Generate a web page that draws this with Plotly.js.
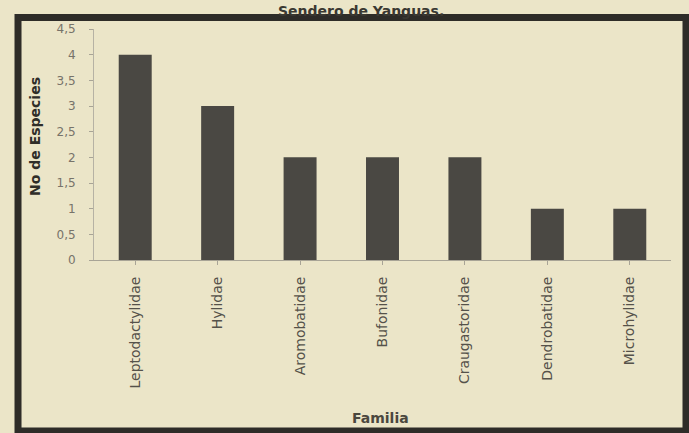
<!DOCTYPE html>
<html>
<head>
<meta charset="utf-8">
<script src="https://cdn.plot.ly/plotly-3.0.1.min.js"></script>
<style>html,body{margin:0;padding:0;background:#ebe5c8;}#chart{width:689px;height:433px;}</style>
</head>
<body>
<div id="chart"></div>
<script>
const familias = ["Leptodactylidae", "Hylidae", "Aromobatidae", "Bufonidae", "Craugastoridae", "Dendrobatidae", "Microhylidae"];
const especies = [4, 3, 2, 2, 2, 1, 1];
const yTicks = [0, 0.5, 1, 1.5, 2, 2.5, 3, 3.5, 4, 4.5];
const tituloTexto = "Sendero de Yanguas.";
const tituloY = "No de Especies";
const tituloX = "Familia";

const bg = '#ebe5c8';
const trace = {
  type: 'bar', x: familias, y: especies,
  marker: {color: '#4a4843'}, hoverinfo: 'none'
};
const layout = {
  width: 689, height: 433,
  margin: {l: 94, r: 18, t: 29, b: 173},
  paper_bgcolor: bg, plot_bgcolor: bg,
  separators: ',.',
  bargap: 0.6,
  showlegend: false,
  font: {family: 'DejaVu Sans, sans-serif', color: '#6a6658'},
  xaxis: {
    type: 'category', showgrid: false, zeroline: false,
    showline: true, linecolor: '#a8a496', linewidth: 1,
    ticks: 'outside', ticklen: 4, tickcolor: '#a8a496',
    tickangle: -90, ticklabelstandoff: 6,
    tickfont: {size: 14, color: '#55524a'}
  },
  yaxis: {
    range: [0, 4.5], tickvals: yTicks, showgrid: false, zeroline: false,
    showline: true, linecolor: '#b6b2a4', linewidth: 1,
    ticks: 'outside', ticklen: 4, tickcolor: '#a8a496',
    ticklabelstandoff: 11,
    tickfont: {size: 12, color: '#77736a'}
  },
  shapes: [
    {type: 'rect', xref: 'paper', yref: 'paper', x0: -0.1317, x1: 1.026, y0: -0.7403, y1: 1.0498,
     line: {color: '#2e2c28', width: 7}, fillcolor: 'rgba(0,0,0,0)', layer: 'above'}
  ],
  annotations: [
    {text: '<b>' + tituloTexto + '</b>', xref: 'paper', yref: 'paper', x: 0.4627, y: 1.1212,
     showarrow: false, xanchor: 'center', yanchor: 'top', font: {size: 14, color: '#3a3832'}},
    {text: '<b>' + tituloY + '</b>', xref: 'paper', yref: 'paper', x: -0.1023, y: 0.5368,
     showarrow: false, textangle: -90, xanchor: 'center', yanchor: 'middle', font: {size: 14, color: '#2f2d28'}},
    {text: '<b>' + tituloX + '</b>', xref: 'paper', yref: 'paper', x: 0.4957, y: -0.684,
     showarrow: false, xanchor: 'center', yanchor: 'middle', font: {size: 14, color: '#4a473e'}}
  ]
};
Plotly.newPlot('chart', [trace], layout, {displayModeBar: false, staticPlot: true});
</script>
</body>
</html>
